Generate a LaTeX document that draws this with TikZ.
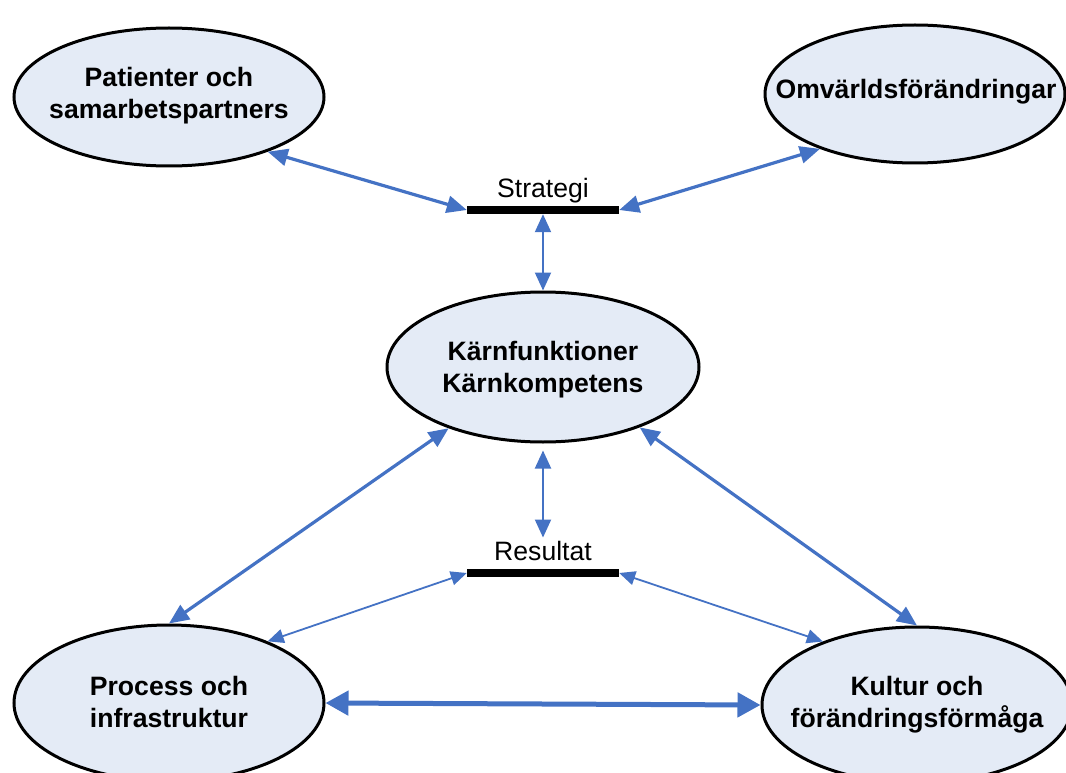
\documentclass[tikz,border=0pt]{standalone}
\usepackage{fontspec}
\setmainfont{Liberation Sans}
\usetikzlibrary{arrows.meta,shapes.geometric}
\definecolor{linkblue}{RGB}{68,114,196}
\definecolor{bubble}{RGB}{228,235,246}
\tikzset{
  bubble/.style={ellipse, draw=black, line width=3pt, fill=bubble, inner sep=0pt},
  bubbletext/.style={align=center, inner sep=0pt, font=\fontsize{26.6}{32}\selectfont\bfseries},
  bar/.style={rectangle, fill=black, inner sep=0pt, minimum width=152pt, minimum height=8pt},
  barlabel/.style={font=\fontsize{26.6}{32}\selectfont, inner sep=3pt, anchor=base},
  link/.style={draw=linkblue, line width=3.2pt,
    {Triangle[length=20pt,width=17pt]}-{Triangle[length=20pt,width=17pt]}},
  midlink/.style={draw=linkblue, line width=2pt,
    {Triangle[length=18pt,width=16pt]}-{Triangle[length=18pt,width=16pt]}},
  thinlink/.style={draw=linkblue, line width=1.8pt,
    {Triangle[length=16pt,width=14pt]}-{Triangle[length=16pt,width=14pt]}},
  boldlink/.style={draw=linkblue, line width=5pt,
    {Triangle[length=23pt,width=24pt]}-{Triangle[length=23pt,width=24pt]}},
}
\begin{document}
\begin{tikzpicture}[x=1pt,y=-1pt]
  \useasboundingbox (0,0) rectangle (1066,773);
  \clip (0,0) rectangle (1066,773);

  % outer ellipses
  \node[bubble, minimum width=310pt, minimum height=138pt] (pat) at (169,97) {};
  \node[bubbletext] (patt) at (169,96) {Patienter och\\samarbetspartners};
  \node[bubble, minimum width=300pt, minimum height=138pt] (omv) at (915,94) {};
  \node[bubbletext] (omvt) at (916,92) {Omvärldsförändringar};
  \node[bubble, minimum width=312pt, minimum height=150pt] (kern) at (543,367) {};
  \node[bubbletext] (kernt) at (543,370) {Kärnfunktioner\\Kärnkompetens};
  \node[bubble, minimum width=310pt, minimum height=156pt] (proc) at (169,703) {};
  \node[bubbletext] (proct) at (169,702) {Process och\\infrastruktur};
  \node[bubble, minimum width=310pt, minimum height=156pt] (kult) at (917,705) {};
  \node[bubbletext] (kultt) at (917,705) {Kultur och\\förändringsförmåga};

  % strategy and result bars
  \node[bar] (strat) at (543,210) {};
  \node[barlabel] (stratl) at (543,197) {Strategi};
  \node[bar] (res) at (543,573) {};
  \node[barlabel] (resl) at (543,560) {Resultat};

  % connectors
  \draw[link] (pat.-29) -- (strat.west);
  \draw[link] (omv.-150) -- (strat.east);
  \draw[midlink] (strat.south) -- (kern.north);
  \draw[midlink, shorten <=7pt] (kern.south) -- (resl.north);
  \draw[link] (kern.-147) -- (proc.north);
  \draw[link] (kern.-32) -- (kult.north);
  \draw[thinlink] (res.west) -- (proc.32);
  \draw[thinlink] (res.east) -- (kult.146);
  \draw[boldlink] (proc.east) -- (kult.west);
\end{tikzpicture}
\end{document}
